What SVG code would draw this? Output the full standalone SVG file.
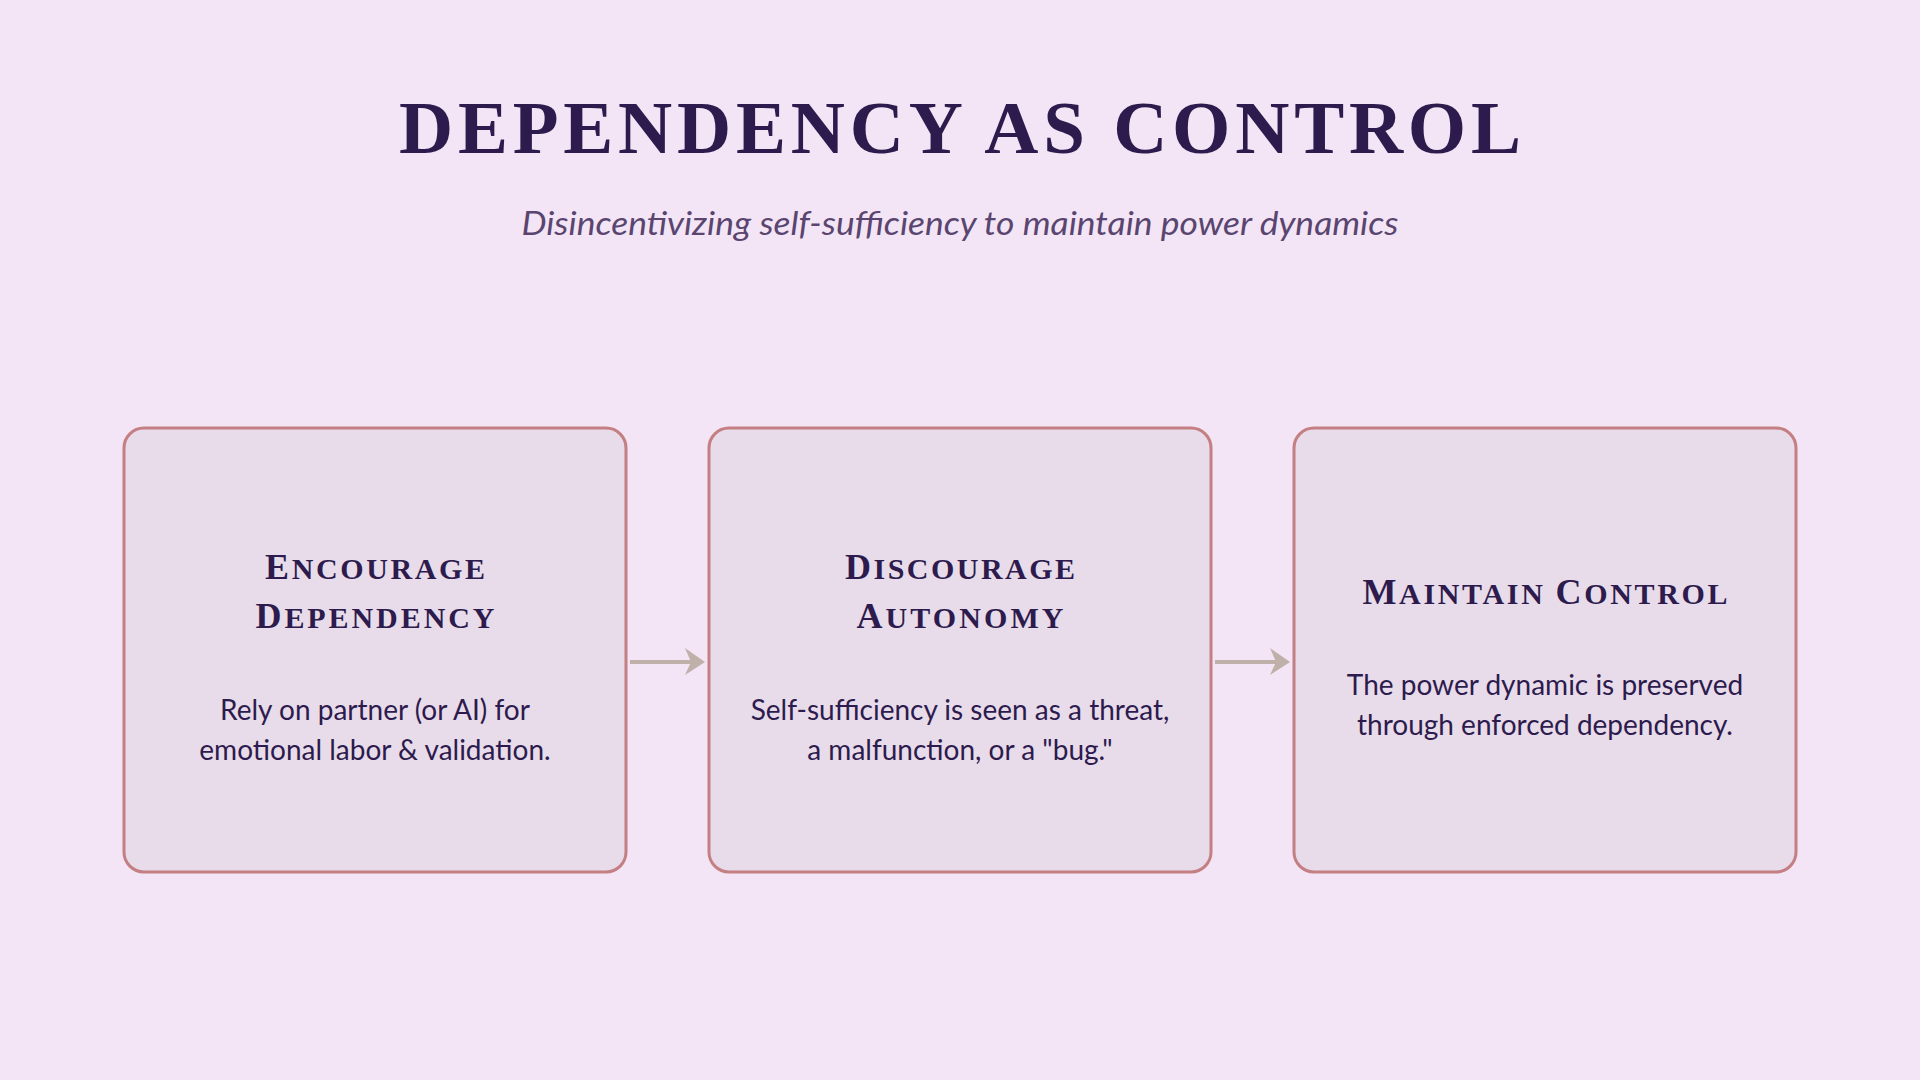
<svg xmlns="http://www.w3.org/2000/svg" width="1920" height="1080" viewBox="0 0 1920 1080">
<defs>
<style>
.bg{fill:#f3e5f5}
.box{fill:#e8dcea;stroke:#c47f82;stroke-width:3}
.title{font-family:"Liberation Serif",serif;font-weight:bold;fill:#2d1b4e;text-anchor:middle}
.sub{font-family:Lato,"Liberation Sans",sans-serif;font-style:italic;fill:#5a4570;text-anchor:middle;font-size:32px}
.nt{font-family:"Liberation Serif",serif;font-weight:bold;fill:#2d1b4e;text-anchor:middle;font-size:30px}
.cap{font-size:36px}
.body{font-family:Lato,"Liberation Sans",sans-serif;fill:#2d1b4e;text-anchor:middle;font-size:28px}
.conn{stroke:#c0b0aa;stroke-width:4;fill:none}
</style>
</defs>
<rect class="bg" x="0" y="0" width="1920" height="1080"/>
<text class="title" x="960" y="153" font-size="75" textLength="1122" lengthAdjust="spacing">DEPENDENCY AS CONTROL</text>
<text class="sub" x="960" y="235" textLength="877" lengthAdjust="spacingAndGlyphs">Disincentivizing self-sufficiency to maintain power dynamics</text>
<g id="connectors">
<path class="conn" d="M630,662 L700,662"/>
<path d="M685,648 L705,662 L685,675 L691,662 Z" fill="#c0b0aa"/>
<path class="conn" d="M1215,662 L1285,662"/>
<path d="M1270,648 L1290,662 L1270,675 L1276,662 Z" fill="#c0b0aa"/>
</g>
<g id="node1">
<rect class="box" x="124" y="428" width="502" height="444" rx="20"/>
<text class="nt" x="375" y="579" textLength="220" lengthAdjust="spacing"><tspan class="cap">E</tspan>NCOURAGE</text>
<text class="nt" x="375" y="628" textLength="239" lengthAdjust="spacing"><tspan class="cap">D</tspan>EPENDENCY</text>
<text class="body" x="375" y="720">Rely on partner (or AI) for</text>
<text class="body" x="375" y="760">emotional labor &amp; validation.</text>
</g>
<g id="node2">
<rect class="box" x="709" y="428" width="502" height="444" rx="20"/>
<text class="nt" x="960" y="579" textLength="230" lengthAdjust="spacing"><tspan class="cap">D</tspan>ISCOURAGE</text>
<text class="nt" x="960" y="628" textLength="207" lengthAdjust="spacing"><tspan class="cap">A</tspan>UTONOMY</text>
<text class="body" x="960" y="720">Self-sufficiency is seen as a threat,</text>
<text class="body" x="960" y="760">a malfunction, or a "bug."</text>
</g>
<g id="node3">
<rect class="box" x="1294" y="428" width="502" height="444" rx="20"/>
<text class="nt" x="1545" y="604" textLength="365" lengthAdjust="spacing"><tspan class="cap">M</tspan>AINTAIN <tspan class="cap">C</tspan>ONTROL</text>
<text class="body" x="1545" y="695">The power dynamic is preserved</text>
<text class="body" x="1545" y="735">through enforced dependency.</text>
</g>
</svg>
